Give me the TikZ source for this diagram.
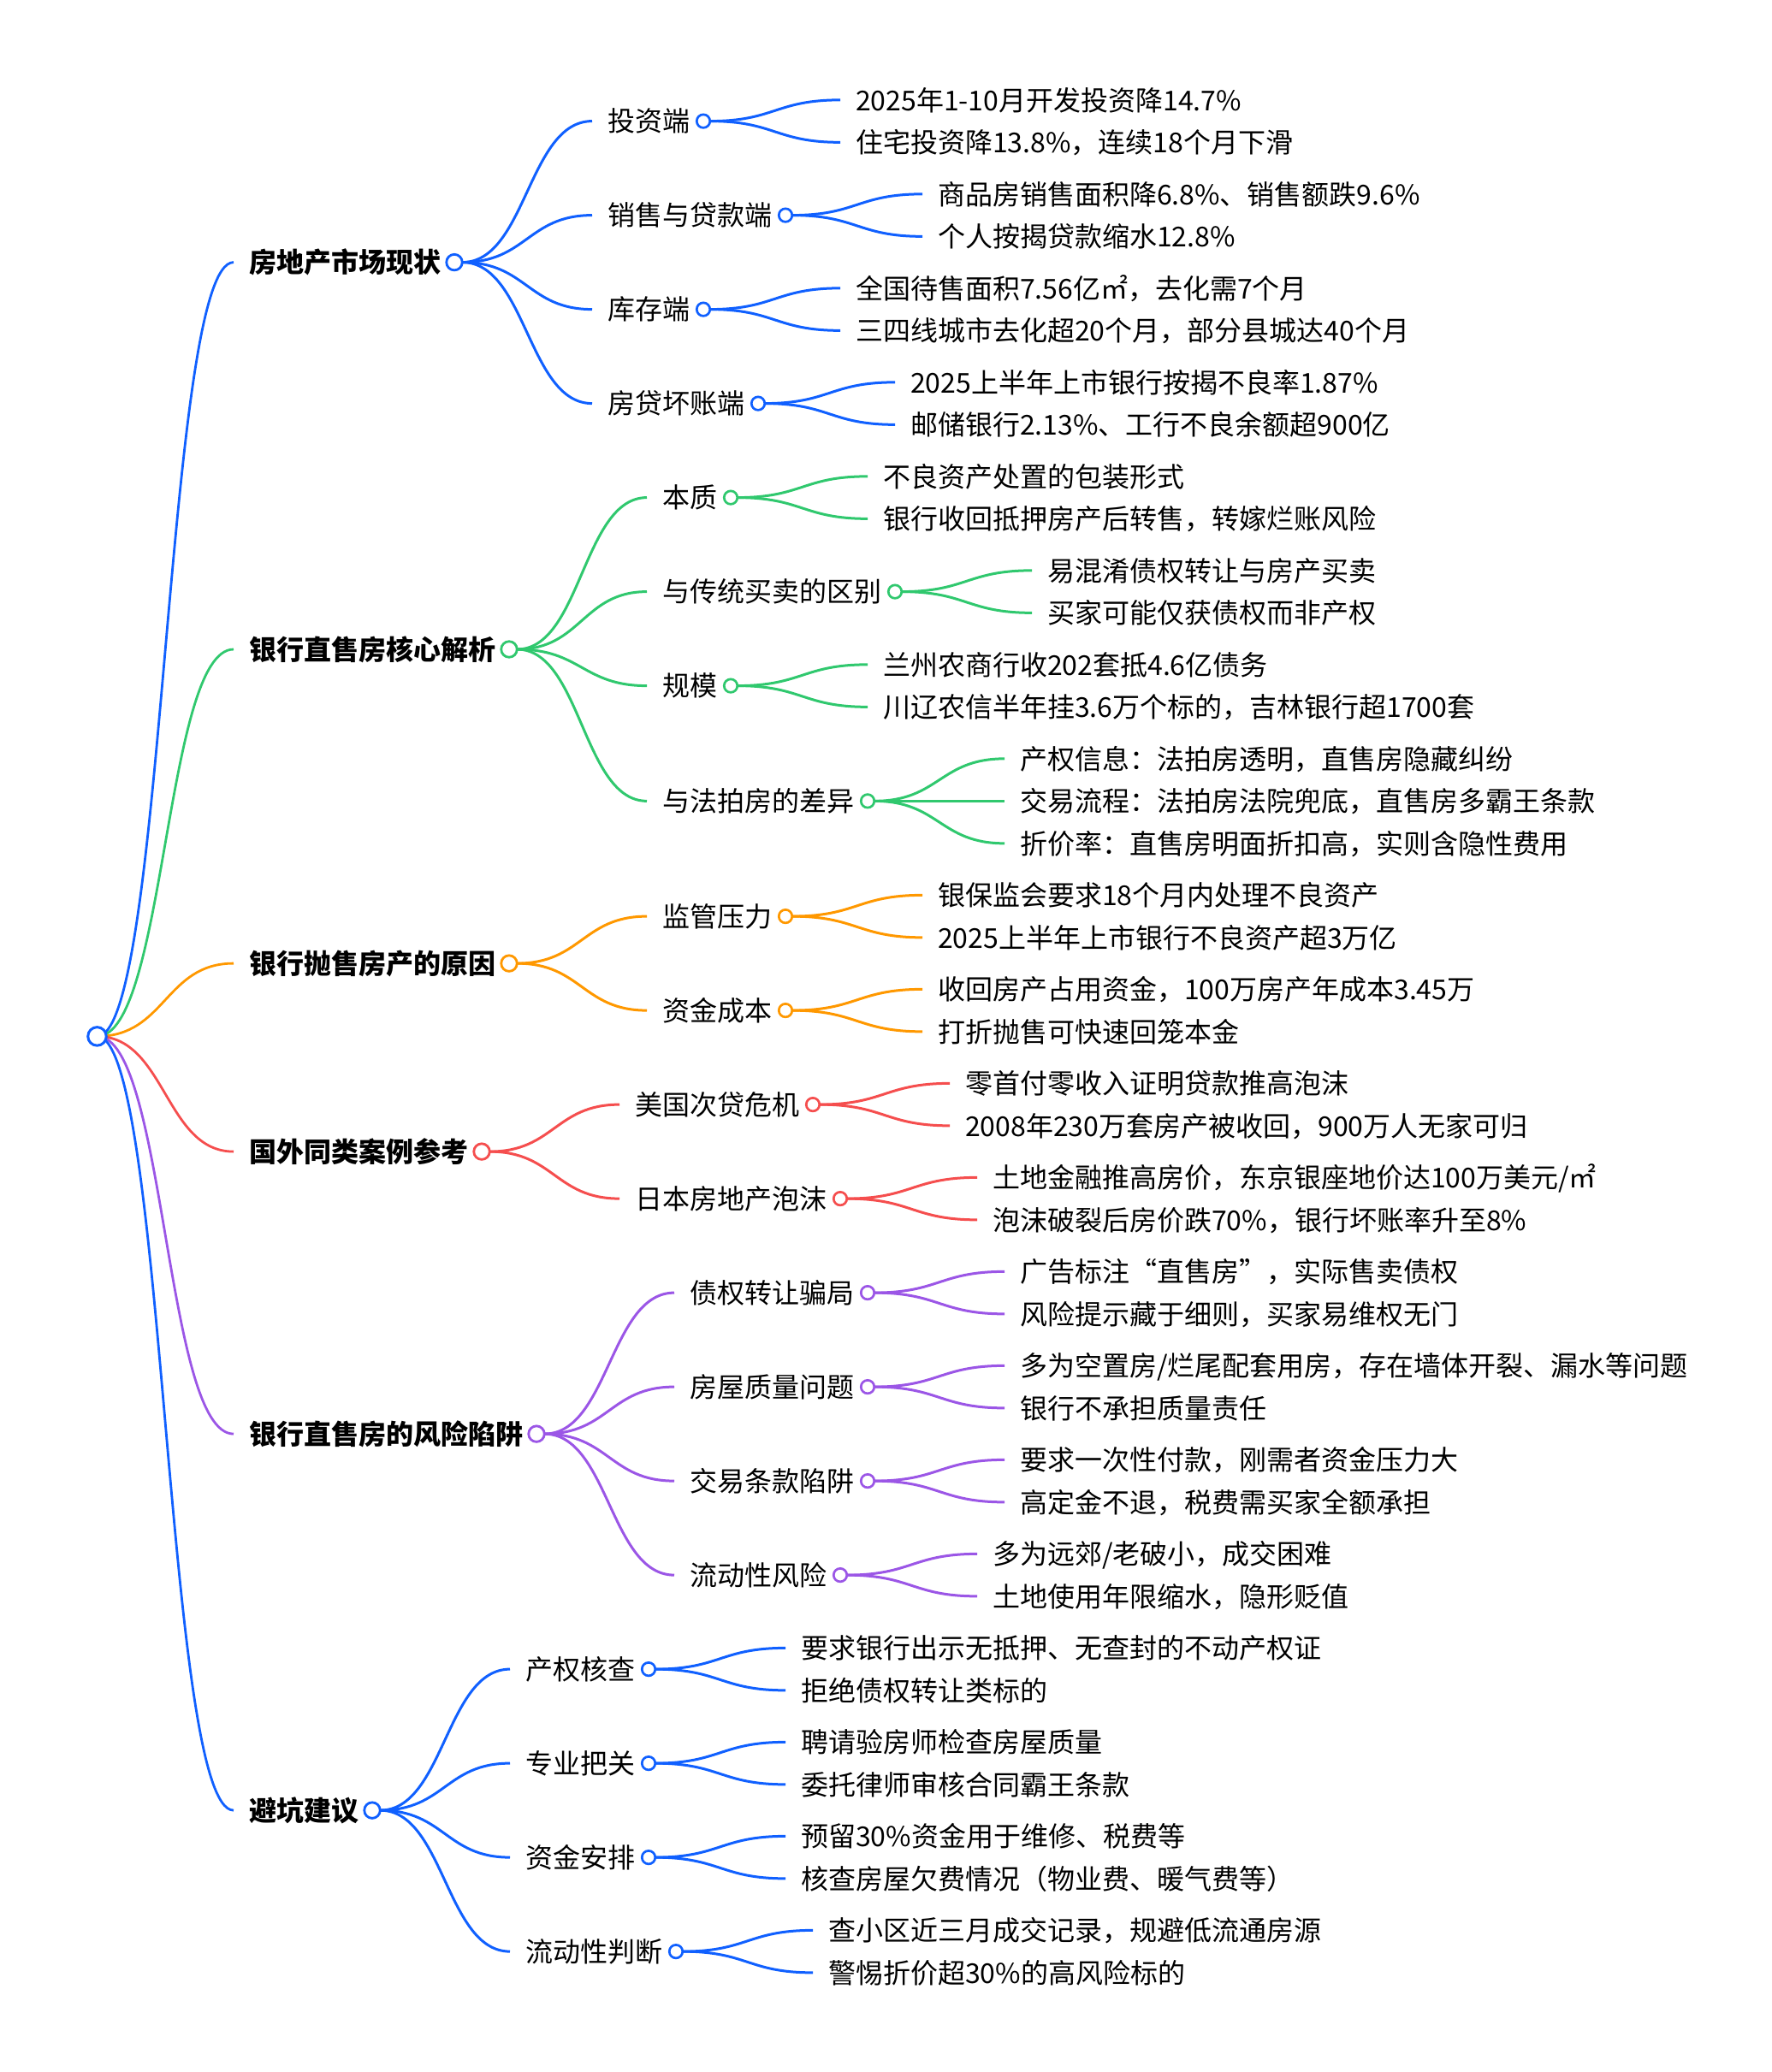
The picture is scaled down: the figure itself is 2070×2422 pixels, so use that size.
\documentclass[tikz,border=0pt]{standalone}
\usepackage{fontspec}
\setmainfont{Noto Sans CJK SC}
\usetikzlibrary{calc}
\pgfdeclarelayer{bg}
\pgfsetlayers{bg,main}
\definecolor{cblue}{RGB}{16,96,255}
\definecolor{cgreen}{RGB}{48,200,110}
\definecolor{corange}{RGB}{255,152,0}
\definecolor{cred}{RGB}{245,78,78}
\definecolor{cpurple}{RGB}{155,86,230}
\tikzset{
  txt/.style={anchor=west, inner sep=0pt, outer sep=0pt, font=\fontsize{32}{38}\selectfont, text height=28.2pt, text depth=3.8pt},
  boldtxt/.style={txt, font=\bfseries\fontsize{32}{38}\selectfont},
  rootdot/.style={circle, draw=cblue, fill=white, line width=3pt, minimum size=21.5pt, inner sep=0pt, outer sep=0pt},
  dotone/.style={circle, fill=white, line width=2.8pt, minimum size=18.5pt, inner sep=0pt, outer sep=0pt},
  dottwo/.style={circle, fill=white, line width=2.7pt, minimum size=15.5pt, inner sep=0pt, outer sep=0pt},
  rootlink/.style={line width=2.8pt},
  link/.style={line width=3pt},
}
% level 1: #1 colour, #2 name, #3 y, #4 text
\newcommand\mmtop[4]{%
  \node[boldtxt] (#2t) at (291,#3) {#4};
  \node[dotone,draw=#1] (#2c) at ([xshift=16]#2t.east) {};
  \begin{pgfonlayer}{bg}
    \draw[rootlink,#1] (root.center) .. controls +(80,0) and +(-80,0) .. ([xshift=-18]#2t.west);
  \end{pgfonlayer}}
% level 2: #1 colour, #2 name, #3 parent, #4 x, #5 y, #6 text
\newcommand\mmmid[6]{%
  \node[txt] (#2t) at (#4,#5) {#6};
  \node[dottwo,draw=#1] (#2c) at ([xshift=16]#2t.east) {};
  \begin{pgfonlayer}{bg}
    \draw[link,#1] (#3c.east) .. controls +(75,0) and +(-75,0) .. ([xshift=-18]#2t.west);
  \end{pgfonlayer}}
% two leaves: #1 colour, #2 parent name, #3 upper text, #4 lower text
\newcommand\mmpair[4]{%
  \node[txt] (#2a) at ($(#2c.center)+(178,-24.75)$) {#3};
  \node[txt] (#2b) at ($(#2c.center)+(178,24.75)$) {#4};
  \begin{pgfonlayer}{bg}
    \draw[link,#1] (#2c.east) .. controls +(76,0) and +(-76,0) .. ([xshift=-18]#2a.west);
    \draw[link,#1] (#2c.east) .. controls +(76,0) and +(-76,0) .. ([xshift=-18]#2b.west);
  \end{pgfonlayer}}
\begin{document}
\begin{tikzpicture}[x=1pt,y=-1pt]
\useasboundingbox (0,0) rectangle (2070,2422);
\node[rootdot] (root) at (113.5,1211.4) {};

\mmtop{cblue}{A}{306.6}{房地产市场现状}
\mmtop{cgreen}{B}{759}{银行直售房核心解析}
\mmtop{corange}{C}{1126.1}{银行抛售房产的原因}
\mmtop{cred}{D}{1346.1}{国外同类案例参考}
\mmtop{cpurple}{E}{1676.1}{银行直售房的风险陷阱}
\mmtop{cblue}{F}{2116.1}{避坑建议}

\mmmid{cblue}{AA}{A}{710}{141.6}{投资端}
\mmmid{cblue}{AB}{A}{710}{251.6}{销售与贷款端}
\mmmid{cblue}{AC}{A}{710}{361.6}{库存端}
\mmmid{cblue}{AD}{A}{710}{471.6}{房贷坏账端}

\mmmid{cgreen}{BA}{B}{774}{581.6}{本质}
\mmmid{cgreen}{BB}{B}{774}{691.6}{与传统买卖的区别}
\mmmid{cgreen}{BC}{B}{774}{801.6}{规模}
\mmmid{cgreen}{BD}{B}{774}{936.35}{与法拍房的差异}

\mmmid{corange}{CA}{C}{774}{1071.1}{监管压力}
\mmmid{corange}{CB}{C}{774}{1181.1}{资金成本}

\mmmid{cred}{DA}{D}{742}{1291.1}{美国次贷危机}
\mmmid{cred}{DB}{D}{742}{1401.1}{日本房地产泡沫}

\mmmid{cpurple}{EA}{E}{806}{1511.1}{债权转让骗局}
\mmmid{cpurple}{EB}{E}{806}{1621.1}{房屋质量问题}
\mmmid{cpurple}{EC}{E}{806}{1731.1}{交易条款陷阱}
\mmmid{cpurple}{ED}{E}{806}{1841.1}{流动性风险}

\mmmid{cblue}{FA}{F}{614}{1951.1}{产权核查}
\mmmid{cblue}{FB}{F}{614}{2061.1}{专业把关}
\mmmid{cblue}{FC}{F}{614}{2171.1}{资金安排}
\mmmid{cblue}{FD}{F}{614}{2281.1}{流动性判断}

\mmpair{cblue}{AA}{2025年1-10月开发投资降14.7\%}{住宅投资降13.8\%，连续18个月下滑}
\mmpair{cblue}{AB}{商品房销售面积降6.8\%、销售额跌9.6\%}{个人按揭贷款缩水12.8\%}
\mmpair{cblue}{AC}{全国待售面积7.56亿㎡，去化需7个月}{三四线城市去化超20个月，部分县城达40个月}
\mmpair{cblue}{AD}{2025上半年上市银行按揭不良率1.87\%}{邮储银行2.13\%、工行不良余额超900亿}

\mmpair{cgreen}{BA}{不良资产处置的包装形式}{银行收回抵押房产后转售，转嫁烂账风险}
\mmpair{cgreen}{BB}{易混淆债权转让与房产买卖}{买家可能仅获债权而非产权}
\mmpair{cgreen}{BC}{兰州农商行收202套抵4.6亿债务}{川辽农信半年挂3.6万个标的，吉林银行超1700套}

\node[txt] (BDa) at ($(BDc.center)+(178,-49.5)$) {产权信息：法拍房透明，直售房隐藏纠纷};
\node[txt] (BDm) at ($(BDc.center)+(178,0)$) {交易流程：法拍房法院兜底，直售房多霸王条款};
\node[txt] (BDb) at ($(BDc.center)+(178,49.5)$) {折价率：直售房明面折扣高，实则含隐性费用};
\begin{pgfonlayer}{bg}
  \draw[link,cgreen] (BDc.east) .. controls +(76,0) and +(-76,0) .. ([xshift=-18]BDa.west);
  \draw[link,cgreen] (BDc.east) -- ([xshift=-18]BDm.west);
  \draw[link,cgreen] (BDc.east) .. controls +(76,0) and +(-76,0) .. ([xshift=-18]BDb.west);
\end{pgfonlayer}

\mmpair{corange}{CA}{银保监会要求18个月内处理不良资产}{2025上半年上市银行不良资产超3万亿}
\mmpair{corange}{CB}{收回房产占用资金，100万房产年成本3.45万}{打折抛售可快速回笼本金}

\mmpair{cred}{DA}{零首付零收入证明贷款推高泡沫}{2008年230万套房产被收回，900万人无家可归}
\mmpair{cred}{DB}{土地金融推高房价，东京银座地价达100万美元/㎡}{泡沫破裂后房价跌70\%，银行坏账率升至8\%}

\mmpair{cpurple}{EA}{广告标注“直售房”，实际售卖债权}{风险提示藏于细则，买家易维权无门}
\mmpair{cpurple}{EB}{多为空置房/烂尾配套用房，存在墙体开裂、漏水等问题}{银行不承担质量责任}
\mmpair{cpurple}{EC}{要求一次性付款，刚需者资金压力大}{高定金不退，税费需买家全额承担}
\mmpair{cpurple}{ED}{多为远郊/老破小，成交困难}{土地使用年限缩水，隐形贬值}

\mmpair{cblue}{FA}{要求银行出示无抵押、无查封的不动产权证}{拒绝债权转让类标的}
\mmpair{cblue}{FB}{聘请验房师检查房屋质量}{委托律师审核合同霸王条款}
\mmpair{cblue}{FC}{预留30\%资金用于维修、税费等}{核查房屋欠费情况（物业费、暖气费等）}
\mmpair{cblue}{FD}{查小区近三月成交记录，规避低流通房源}{警惕折价超30\%的高风险标的}
\end{tikzpicture}
\end{document}
